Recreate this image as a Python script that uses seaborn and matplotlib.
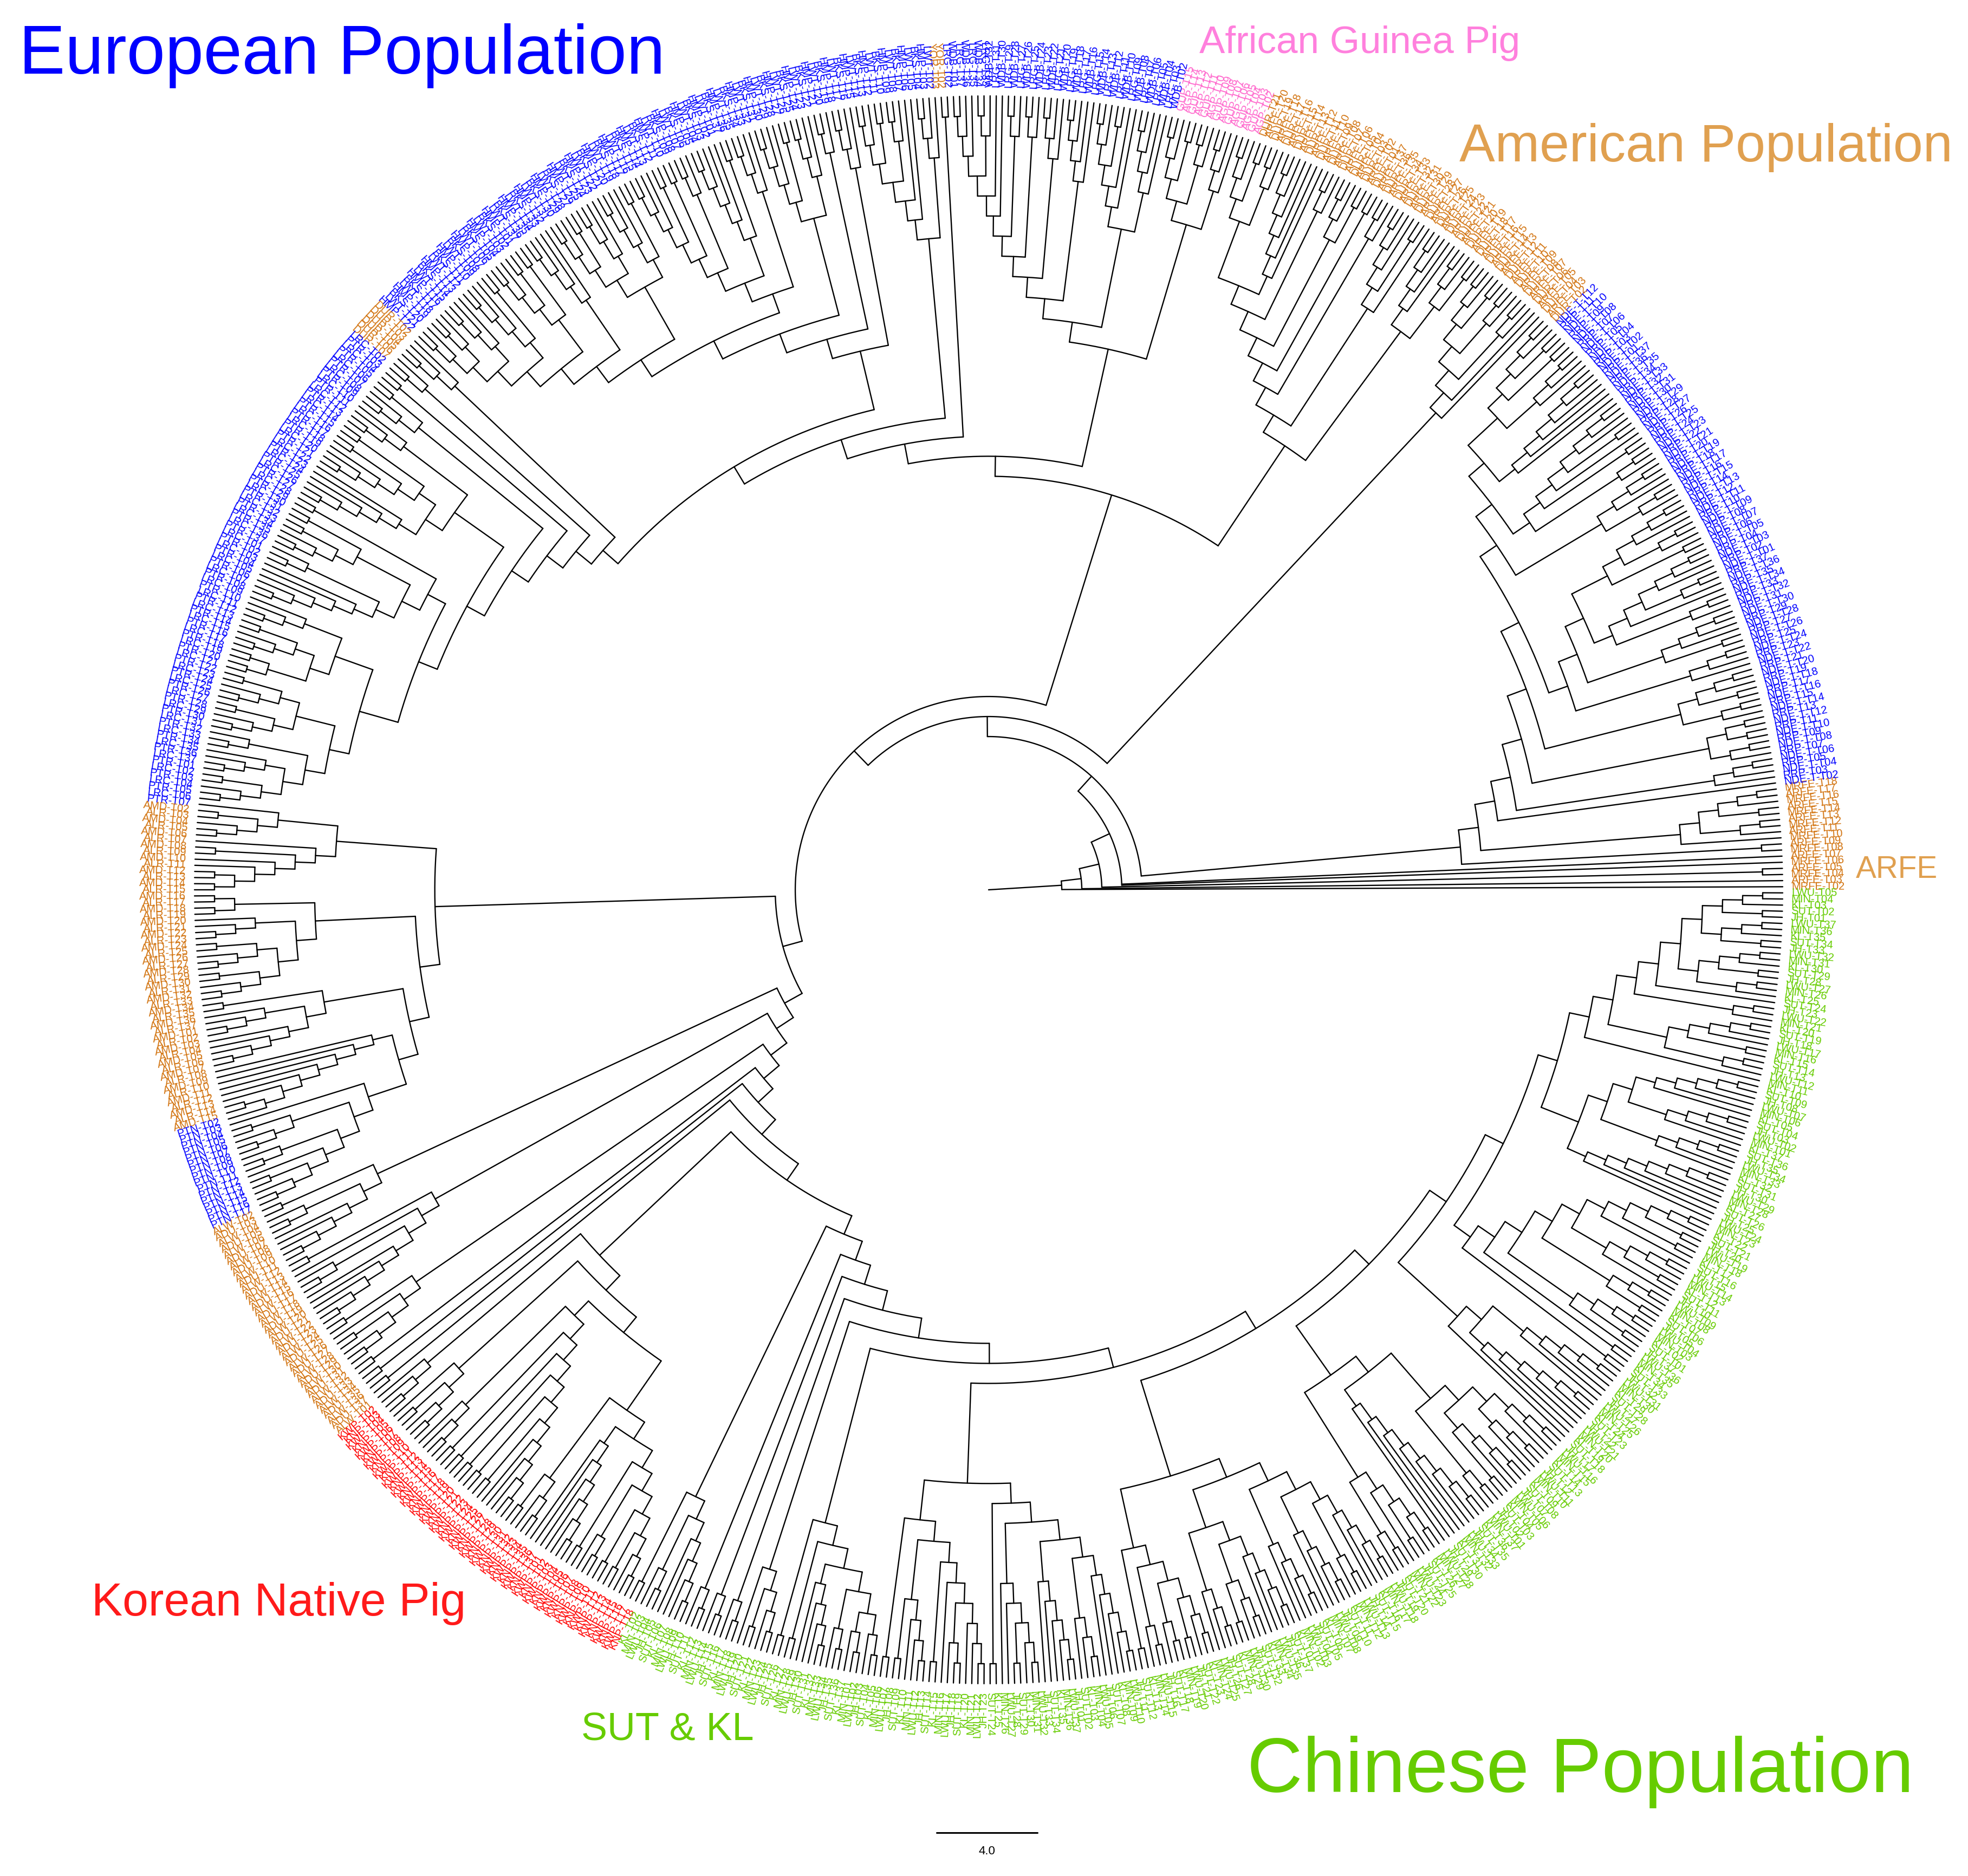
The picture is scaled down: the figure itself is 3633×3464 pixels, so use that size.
"""Circular cladogram of pig breeds, redrawn by reading the topology off the picture."""
import matplotlib

matplotlib.use("Agg")
import matplotlib.pyplot as plt
import numpy as np
import pandas as pd
import seaborn as sns
from matplotlib.font_manager import FontProperties
from matplotlib.textpath import TextPath

# topology notation: "." leaf, "(...)" node, c=(..) t=(.c) q=(.t) d=(cc)
LAD5 = "(.(.(.(.c))))"
LAD6 = "(.(.(.(.(.c)))))"
LAD7 = "(.(.(.(.(.(.c))))))"
FOUR = "(.(.(.c)))"


def nest(rungs, core):
    for rung in reversed(rungs):
        core = f"({rung}{core})"
    return core


# --- right fan, blue, 3 to 45 degrees
a_top = "((t(.(tq)))(c(tq)))"
a_two = nest(["q", "(cq)"], a_top)
h_eight = f"((t(c(.(c(.t)))))({LAD6}(q(c(ct)))))"
a_one = f"((tq){h_eight})"
right_fan = nest(["c", "(.(t(ct)))", ".", "q", "(td)", "(t(ct))"], f"({a_two}{a_one})")

# --- orange American block and pink, 45 to 94 degrees
w_clade = "(.(.(t(t(ct)))))"
v_seven = f"({LAD6}(t(ct)))"
v_clade = nest(["((ct)(.q))", "(.(c(.t)))", "t", "c", "(ct)", "t"], v_seven)
t_clade = nest(["(q(t(ct)))", f"({FOUR}(.(.(ct))))", FOUR, "q", "t", "t", ".", ".", "t"], "q")

# --- blue top and upper left, 94 to 174 degrees
s_low = "(q(.(.(t(ct)))))"
d_eight = "(q((c(.(.(.c))))(t(c(cq)))))"
g_eight = nest(["((cq)(q(ct)))", "(.(.t))", "(c(ct))", "(c(.t))", "q"], "(tt)")
a_twelve = nest(["q", "t", "(q(c(.t)))"], f"({d_eight}{g_eight})")
m_ten_low = "(q((c(c(.t)))(.(.(.t)))))"
m_eight = "(c((c(ct))(t(.(.(.t))))))"
n_seven = "((q((ct)d))(((ct)(ct))(t(q(ct)))))"
m_nine = f"({m_eight}{n_seven})"
m_fourteen = nest(["q", "t", "c", "(ct)", m_ten_low], m_nine)
z_clade = f"({a_twelve}{m_fourteen})"

# --- left, orange and blue, 174 to 204 degrees
k_low = "((.(ct))(.(c(.(.d)))))"
k_six = "(d(q((ct)(ct))))"
k_six_b = "(c(q(.(.(.c)))))"
k_ladder = "(.(.(.(.(.(.(c.)))))))"
k_seven = "(.((ct)(t(.(ct)))))"
k_clade = nest([k_low, k_six, k_six_b], f"({k_ladder}{k_seven})")

# --- lower left, orange and red, 204 to 244 degrees
rung_a = "(c(t(.(.t))))"
rung_b = "(c(.(t(.(.(.t))))))"
rung_c = "(c(.(ct)))"
l_ten = nest(["q", "c", "c", "c", "c", "c"], "(.(.t))")
l_eight = f"((ct)({LAD6}(c(t(c(ct))))))"
l_thirteen = nest(["q", "(.(ct))"], f"({l_ten}{l_eight})")

# --- green, 244 to 360 degrees
g_seven = "(c(c((.(.(.c)))(t(tt)))))"
a_eight = nest(["c", "(cq)", "c", ".", "t"], "q")
a_nine = "(c((.(.(ct)))((.(.(.t)))(q" + LAD5 + "))))"
a_ten = f"({a_eight}{a_nine})"
c_nine = "((c(t(t(ct))))((q((ct)(.(.t))))((.(.t))((.(.t))(t(.(.t)))))))"
d_ten = "((t(.(ct)))(" + nest(["."] * 7, "c") + "(t((cq)(qq)))))"
e_eight = f"(.({LAD6}(.(.(.t)))))"
f_ten = nest(["c", "c", "(.(ct))", "(ct)"], "((.(ct))(.(c(ct))))")
m_eight_g = f"({LAD7}({FOUR}({FOUR}{LAD5})))"
tail = nest([".", "(t(c(.(.c))))", "t", "."], "((t(ct))((ct)(ct)))")
green_top = nest([a_ten, c_nine, d_ten, e_eight, f_ten, m_eight_g], tail)
l_sixteen = nest([g_seven], green_top)
l_twenty = nest(["t", "t", "t", "(.(ct))"], l_sixteen)
l_twentyeight = nest([rung_a, rung_b, rung_c, "c", "c", "c", l_thirteen, rung_a], l_twenty)

# --- the backbone
j_clade = f"({k_clade}{l_twentyeight})"
i_clade = nest([v_clade], nest([t_clade, "c", s_low], z_clade))
h_clade = f"({i_clade}{j_clade})"
tree_text = nest([".", ".", "c"], f"(..({right_fan}({w_clade}{h_clade})))")

# label colour bands, by end angle
band_ends = [7.7, 45, 70.2, 76.5, 93.2, 94.3, 136.2, 138.6, 174, 196.7, 203.8, 220, 244, 360]
band_names = ["orange", "blue", "orange", "pink", "blue", "orange", "blue", "orange",
              "blue", "orange", "blue", "orange", "red", "green"]
band_codes = [["ARFE", "MRFE"], ["RRP", "NDE-T"], ["ARFE", "DUR"], ["GUP", "AGP"], ["LRG", "WDB"],
              ["YOR"], ["BKS", "LWT", "HMP"], ["DUR"], ["PTR", "LRC"], ["ALR", "AMD"], ["PTN"],
              ["ADU", "ALW"], ["KNP", "KWP"], ["SUT", "KL", "MIN", "LWU", "JH"]]
colours = {"orange": "#d2730f", "blue": "#0000ff", "pink": "#ff66cc", "red": "#ff0000", "green": "#66cc00"}

captions = ["European Population", "African Guinea Pig", "American Population", "ARFE",
            "Korean Native Pig", "SUT & KL", "Chinese Population"]
caption_colours = ["#0000ff", "#ff80dd", "#e0a050", "#e0a050", "#ff1a1a", "#66cc00", "#66cc00"]
caption_x = [(35, 1228), (2214, 2810), (2694, 3611), (3426, 3577), (169, 858), (1073, 1391), (2302, 3535)]
caption_y = [103, 80, 273, 1606, 2961, 3194, 3272]

W, H = 3633, 3464
CENTER = (1825, 1643)
R_TIP, STEP, R_AX = 1466, 36.97, 1640
LABEL_R = 1482


def expand(text):
    for key, val in [("q", "(.t)"), ("d", "(cc)"), ("t", "(.c)"), ("c", "(..)")]:
        text = text.replace(key, val)
    return text


def parse(text):
    stack = [[]]
    for ch in text:
        if ch == "(":
            stack.append([])
        elif ch == ".":
            stack[-1].append(None)
        else:
            kids = stack.pop()
            stack[-1].append(kids)
    assert len(stack) == 1 and len(stack[0]) == 1, "unbalanced tree"
    return stack[0][0]


tree_text = expand(tree_text)
tree = parse(tree_text)
n_leaves = tree_text.count(".")
d_theta = 2 * np.pi / n_leaves
print("leaves", n_leaves)

rows = []
leaf_angles = []
edge_id = 0


def add_line(thetas, radii):
    global edge_id
    for th, r in zip(thetas, radii):
        rows.append((edge_id, th, r))
    edge_id += 1


def radius(height):
    return R_TIP - height * STEP


def walk(node):
    """Returns angle and height of the node, and draws its arc and the stems of its children."""
    if node is None:
        th = (len(leaf_angles) + 0.5) * d_theta
        leaf_angles.append(th)
        return th, 0
    placed = [walk(kid) for kid in node]
    height = 1 + max(h for _, h in placed)
    r = radius(height)
    lo, hi = placed[0][0], placed[-1][0]
    arc = np.linspace(lo, hi, max(2, int((hi - lo) / np.radians(1.0)) + 2))
    add_line(arc, [r] * len(arc))
    for th, h in placed:
        add_line([th, th], [r, radius(h)])
    return (lo + hi) / 2, height


root_theta, root_height = walk(tree)
add_line([root_theta, root_theta], [0, radius(root_height)])
edges = pd.DataFrame(rows, columns=["edge", "theta", "r"])

sns.set_theme(style="white")
plt.rcParams["font.family"] = ["Liberation Sans", "DejaVu Sans"]

fig = plt.figure(figsize=(W / 100, H / 100), dpi=100, facecolor="white")
ax = fig.add_axes([(CENTER[0] - R_AX) / W, 1 - (CENTER[1] + R_AX) / H, 2 * R_AX / W, 2 * R_AX / H],
                  projection="polar")
sns.lineplot(data=edges, x="theta", y="r", units="edge", estimator=None, sort=False,
             color="black", linewidth=1.7, legend=False, ax=ax)
ax.set_rlim(0, R_AX)
ax.axis("off")

counter = {}
for th in leaf_angles:
    deg = np.degrees(th)
    band = min(int(np.searchsorted(band_ends, deg)), len(band_ends) - 1)
    k = counter.get(band, 0) + 1
    counter[band] = k
    codes = band_codes[band]
    name = f"{codes[k % len(codes)]}-T{k % 37 + 1:02d}"
    right = deg < 90 or deg > 270
    ax.text(th, LABEL_R, name, color=colours[band_names[band]], fontsize=14.5,
            rotation=deg if right else deg - 180, rotation_mode="anchor",
            ha="left" if right else "right", va="center")

for text, colour, (x0, x1), yc in zip(captions, caption_colours, caption_x, caption_y):
    fp = FontProperties(family="Liberation Sans")
    width = TextPath((0, 0), text, size=100, prop=fp).get_extents().width
    size_px = 98.5 * (x1 - x0) / width
    fig.text(x0 / W, 1 - yc / H, text, color=colour, fontproperties=fp,
             fontsize=size_px * 72 / 100, ha="left", va="center")

# scale bar
bar = fig.add_axes([0, 0, 1, 1], facecolor="none")
sns.lineplot(x=[1729, 1915], y=[3384, 3384], color="black", linewidth=2.2, ax=bar, legend=False,
             estimator=None, sort=False)
bar.set_xlim(0, W)
bar.set_ylim(H, 0)
bar.axis("off")
bar.text(1822, 3419, "4.0", fontsize=16, ha="center", va="center", color="black")

fig.savefig("out.png", dpi=100)
